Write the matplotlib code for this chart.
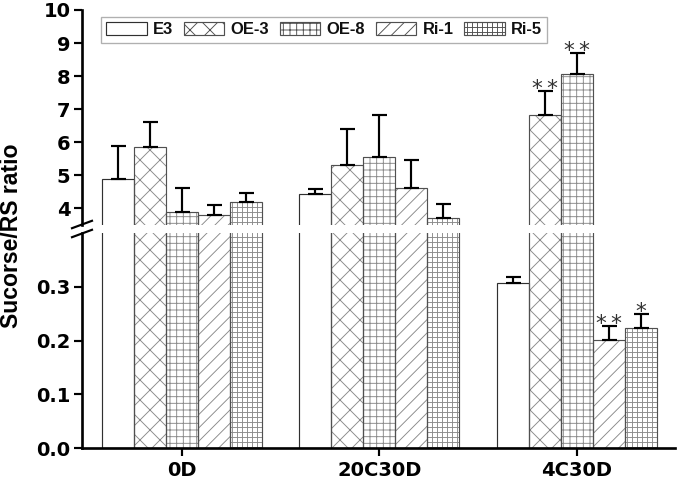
import matplotlib
matplotlib.use("Agg")
import matplotlib.pyplot as plt
from matplotlib.patches import Patch
from matplotlib.lines import Line2D
import numpy as np

# ---------------- data ----------------
groups = ["0D", "20C30D", "4C30D"]
series = ["E3", "OE-3", "OE-8", "Ri-1", "Ri-5"]
E3 = [4.90, 4.43, 0.307]
OE3 = [5.86, 5.32, 6.84]
OE8 = [3.89, 5.57, 8.05]
Ri1 = [3.79, 4.62, 0.201]
Ri5 = [4.20, 3.71, 0.223]
E3_err = [0.99, 0.15, 0.012]
OE3_err = [0.74, 1.07, 0.72]
OE8_err = [0.74, 1.27, 0.64]
Ri1_err = [0.31, 0.84, 0.026]
Ri5_err = [0.28, 0.42, 0.026]
E3_sig = ["", "", ""]
OE3_sig = ["", "", "**"]
OE8_sig = ["", "", "**"]
Ri1_sig = ["", "", "**"]
Ri5_sig = ["", "", "*"]
upper_ticks = [4, 5, 6, 7, 8, 9, 10]
lower_ticks = [0.0, 0.1, 0.2, 0.3]

values = [E3, OE3, OE8, Ri1, Ri5]
errors = [E3_err, OE3_err, OE8_err, Ri1_err, Ri5_err]
sigs = [E3_sig, OE3_sig, OE8_sig, Ri1_sig, Ri5_sig]
hatches = [None, "xx", "+++", "///", "++++"]

# ---------------- style ----------------
W, H, DPI = 677, 483, 120
plt.rcParams["hatch.linewidth"] = 0.55

fig = plt.figure(figsize=(W / DPI, H / DPI), dpi=DPI)

def fx(px):
    return px / W

def fy(py):
    return 1 - py / H

left, right = 82, 675
ax_up = fig.add_axes([fx(left), fy(225), fx(right) - fx(left), fy(10) - fy(225)])
ax_lo = fig.add_axes([fx(left), fy(448), fx(right) - fx(left), fy(233) - fy(448)])

x = np.arange(len(groups))
w = 0.162
hatch_col = "#8a8a8a"
edge = "#505050"

for ax in (ax_up, ax_lo):
    for i, (vals, errs, h) in enumerate(zip(values, errors, hatches)):
        pos = x + (i - 2) * w
        # hatch fill
        ax.bar(pos, vals, w, facecolor="white", edgecolor=hatch_col,
               linewidth=0, hatch=h, zorder=2)
        # outline
        ax.bar(pos, vals, w, fill=False, edgecolor=edge if i else "#303030",
               linewidth=0.7, zorder=2.5)
        ax.errorbar(pos, vals, yerr=[np.zeros(len(vals)), errs], fmt="none",
                    ecolor="black", elinewidth=1.3, capsize=4.5,
                    capthick=1.3, zorder=3)
    ax.set_xlim(-0.506, 2.496)
    for s in ("top", "right"):
        ax.spines[s].set_visible(False)
    ax.spines["left"].set_linewidth(1.6)
    ax.tick_params(axis="y", direction="out", length=5, width=1.3, pad=2)

ax_up.set_ylim(3.5, 10)
ax_lo.set_ylim(0, 0.4)
ax_up.spines["bottom"].set_visible(False)
ax_up.tick_params(axis="x", which="both", bottom=False, labelbottom=False)
ax_up.set_yticks(upper_ticks)
ax_up.set_yticklabels([str(t) for t in upper_ticks],
                      fontweight="bold", fontfamily="DejaVu Sans", fontsize=11.7)
ax_lo.set_yticks(lower_ticks)
ax_lo.set_yticklabels([f"{t:.1f}" for t in lower_ticks],
                      fontweight="bold", fontfamily="DejaVu Sans", fontsize=11.7)
ax_lo.spines["bottom"].set_linewidth(1.6)
ax_lo.set_xticks(x)
ax_lo.set_xticklabels(groups, fontweight="bold", fontfamily="DejaVu Sans",
                      fontsize=11.7)
ax_lo.tick_params(axis="x", direction="out", length=5, width=1.3, pad=3)

# significance stars
for i, (vals, errs, sg) in enumerate(zip(values, errors, sigs)):
    for j in range(len(groups)):
        if not sg[j]:
            continue
        top = vals[j] + errs[j]
        ax = ax_up if top > 1 else ax_lo
        txt = "\u2009".join(list(sg[j]))
        ax.annotate(txt, xy=(x[j] + (i - 2) * w, top), xytext=(0, -2.3),
                    textcoords="offset points", ha="center", va="baseline",
                    fontsize=13, fontfamily="DejaVu Sans", color="#333333")

# axis break marks
for yc in (224.5, 233.5):
    fig.add_artist(Line2D([fx(72), fx(92)], [fy(yc + 3.7), fy(yc - 3.7)],
                          transform=fig.transFigure, color="black", lw=1.3))

# y label
fig.text(fx(12), fy(236), "Sucorse/RS ratio", rotation=90, ha="center",
         va="center", fontsize=13.8, fontweight="bold",
         fontfamily="Liberation Sans")

# legend
handles = [Patch(facecolor="white", edgecolor=edge if i else "#303030",
                 linewidth=0.7, hatch=h)
           for i, h in enumerate(hatches)]
leg = ax_up.legend(handles, series, loc="upper left",
                   bbox_to_anchor=(fx(101), fy(17)), bbox_transform=fig.transFigure,
                   ncol=5, frameon=True, fancybox=False, framealpha=1,
                   edgecolor="#b0b0b0", borderaxespad=0, borderpad=0.32,
                   handlelength=2.45, handleheight=0.8, handletextpad=0.38,
                   columnspacing=0.65,
                   prop={"family": "Liberation Sans", "size": 9.9,
                         "weight": "bold"})
leg.get_frame().set_linewidth(0.8)
for t in leg.get_texts():
    t.set_color("#111111")

fig.savefig("out.png", dpi=DPI)
